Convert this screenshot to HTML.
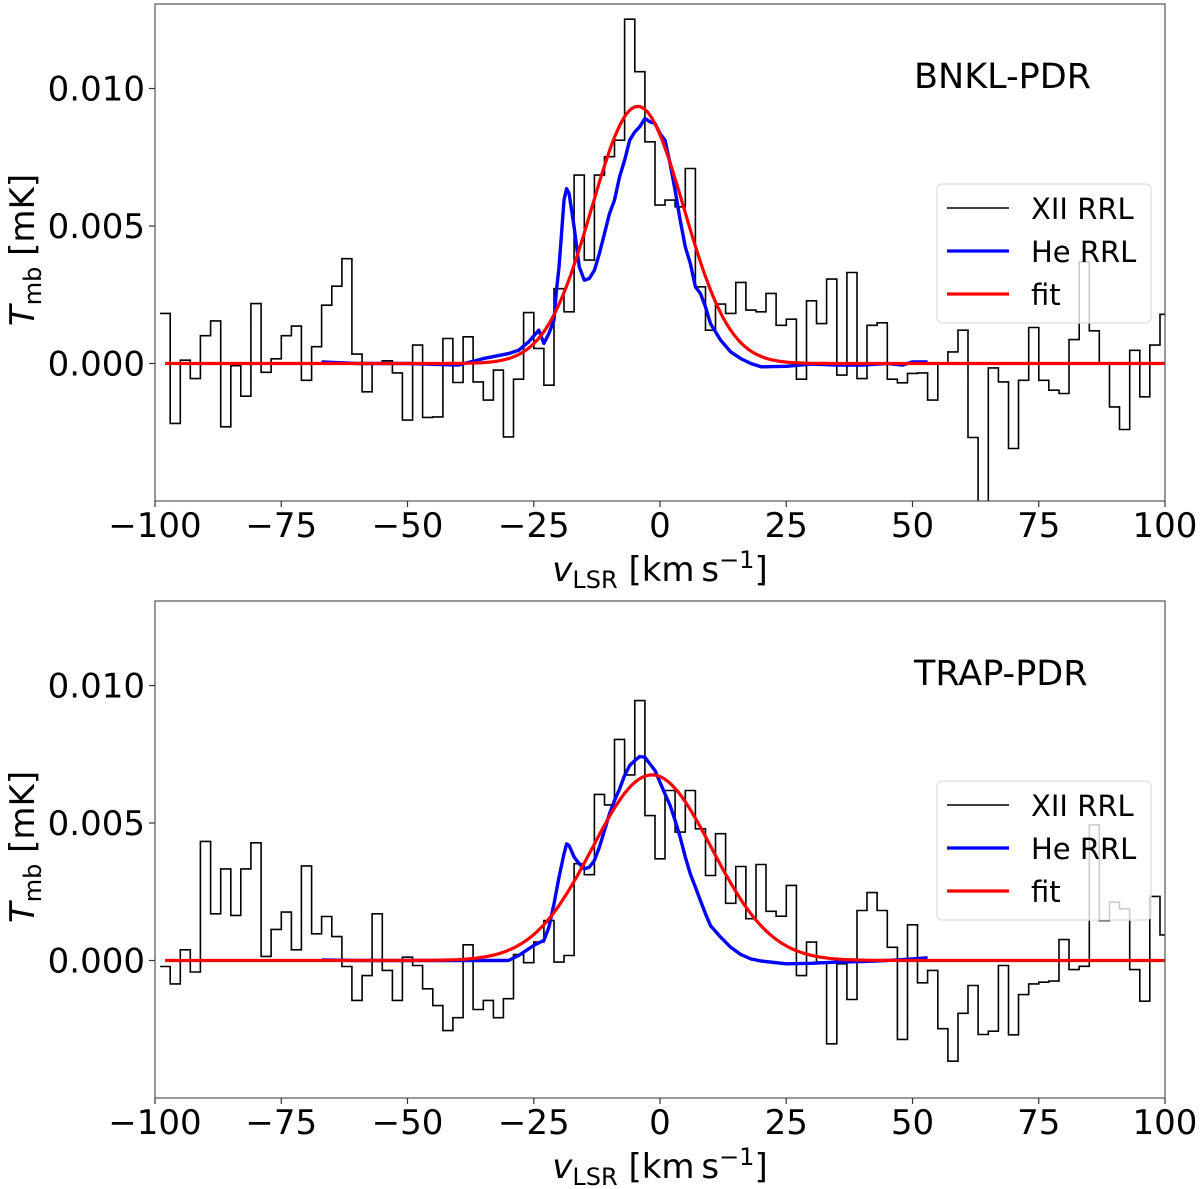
<!DOCTYPE html>
<html><head><meta charset="utf-8"><style>
html,body{margin:0;padding:0;background:#fff;}
svg{display:block;font-family:"DejaVu Sans","Liberation Sans",sans-serif;}
</style></head><body>
<svg id="fig" width="1200" height="1189" viewBox="0 0 1200 1189"></svg>
<script>
// ---- data (values in units of 1e-3 K as read) ----
const histStart = -98, histStep = 2;
const topHist = [1.82,-2.18,0.12,-0.55,1.01,1.55,-2.30,-0.08,-1.19,2.18,-0.32,0.17,1.01,1.36,-0.61,0.61,2.12,2.81,3.81,0.34,-1.03,0,0.10,-0.34,-2.06,0.67,-1.96,-1.94,0.91,-0.69,0.97,-0.67,-1.33,-0.24,-2.67,-0.57,1.85,0.55,-0.79,2.72,1.88,6.85,3.76,6.85,7.52,8.12,12.52,10.61,8.06,5.76,
5.94,5.70,7.09,2.79,1.21,2.16,1.82,2.95,1.94,1.88,2.55,1.39,1.61,-0.57,2.28,1.45,3.07,-0.42,3.31,-0.55,1.39,1.48,-0.57,-0.70,-0.36,-0.34,-1.33,0,0.42,1.21,-2.69,-5.70,-0.16,-0.67,-3.09,-0.61,1.31,-0.61,-0.97,-1.09,0.87,3.70,1.19,0,-1.58,-2.40,0.48,-1.21,0.67,1.79];
const botHist = [-0.22,-0.85,0.39,-0.42,4.33,1.70,3.33,1.64,3.33,4.28,0.15,1.13,1.76,0.39,3.44,0.97,1.60,0.87,-0.22,-1.45,-0.55,1.70,-0.36,-1.45,0.12,-0.18,-1.03,-1.64,-2.55,-2.08,0.57,-1.78,-1.45,-2.08,-1.39,0.22,-0.08,0.67,1.45,-0.06,0.18,3.52,3.12,6.04,5.66,8.04,6.75,9.45,5.27,3.70,
6.18,4.67,6.18,4.79,3.09,4.61,2.08,3.42,1.52,3.49,1.79,1.61,2.73,-0.55,0.67,-0.06,-3.03,-0.12,-1.42,1.82,2.47,1.82,0.48,-2.87,1.30,-0.81,-0.36,-2.48,-3.66,-1.92,-0.91,-2.69,-2.57,-0.18,-2.70,-1.24,-0.85,-0.79,-0.75,0.76,-0.33,-0.21,4.93,1.45,2.12,1.88,-0.33,-1.48,2.33,0.93];
const topHeV = [-67,-60,-50,-40,-35,-30,-28,-26,-24,-23,-22,-21,-20.5,-20,-19.5,-19,-18.5,-18,-17,-16,-15,-14,-13,-12,-11,-10,-9,-8,-7,-6,-5,-4,-3,-2,-1,0,1,2,3,4,5,6,7,8,9,10,12,14,16,18,20,25,30,35,40,45,48,50,53];
const topHeT = [0.06,0,0,-0.06,0.18,0.36,0.48,0.79,1.21,0.73,1.09,1.58,2.67,3.5,4.7,5.94,6.36,6.18,4.97,3.52,3.03,3.09,3.39,4.0,4.73,5.45,5.94,6.79,7.39,8.12,8.42,8.61,8.91,8.79,8.73,8.36,8.12,7.27,6.30,5.21,4.24,3.64,2.79,2.55,2.06,1.45,0.85,0.42,0.18,0,-0.12,-0.1,-0.02,-0.06,-0.06,0,-0.06,0.06,0.06];
const botHeV = [-67,-60,-50,-40,-30,-28,-25,-23,-22,-21,-20,-19,-18.5,-18,-17,-16,-15,-14,-13,-12,-11,-10,-9,-8,-7,-6,-5,-4,-3,-2,-1,0,1,2,3,4,5,6,7,8,9,10,12,14,16,18,20,25,30,35,40,45,50,53];
const botHeT = [0.02,0,0,0,0,0.18,0.55,0.73,1.21,2.06,3.03,3.88,4.24,4.18,3.76,3.52,3.33,3.39,3.64,4.12,4.73,5.33,5.82,6.24,6.73,7.09,7.27,7.42,7.39,7.15,6.91,6.48,6.06,5.64,5.09,4.48,3.76,3.15,2.67,2.18,1.70,1.27,0.85,0.48,0.22,0.06,-0.02,-0.12,-0.1,-0.06,-0.04,0,0.06,0.1];
const fitTop = {amp: 9.35, center: -4.4, sigma: 9.1};
const fitBot = {amp: 6.75, center: -1.6, sigma: 11.8};
const xTicks = [-100,-75,-50,-25,0,25,50,75,100];
const xTickLabels = ["\u2212100","\u221275","\u221250","\u221225","0","25","50","75","100"];
const yTicks = [0, 5, 10];
const yTickLabels = ["0.000","0.005","0.010"];

const NS = "http://www.w3.org/2000/svg";
const svg = document.getElementById('fig');
function mk(tag, attrs, parent){const e=document.createElementNS(NS,tag);for(const k in attrs)e.setAttribute(k,attrs[k]);(parent||svg).appendChild(e);return e;}

function panel(top, hist, heV, heT, fit, title, key){
  const L=155, R=1165, T=top, B=top+497;
  const zeroY = top+359.5;
  const sx = v => L + (v+100)*(R-L)/200;
  const sy = t => zeroY - t*27.5;
  const g = mk('g',{});
  
  
  const cp = mk('clipPath',{id:'clip-'+key}, g);
  mk('rect',{x:L,y:T,width:R-L,height:B-T},cp);
  const plot = mk('g',{'clip-path':'url(#clip-'+key+')'}, g);
  let d='';
  for(let i=0;i<hist.length;i++){
    const v=histStart+i*histStep;
    const x0=sx(Math.max(-100,v-histStep/2)), x1=sx(Math.min(100,v+histStep/2));
    const y=sy(hist[i]);
    d += (i===0?'M':'L')+x0.toFixed(1)+','+y.toFixed(1)+'L'+x1.toFixed(1)+','+y.toFixed(1);
  }
  const h = mk('path',{d:d,fill:'none',stroke:'#000','stroke-width':1.6}, plot);
  
  
  let d2='';
  for(let i=0;i<heV.length;i++) d2+=(i?'L':'M')+sx(heV[i]).toFixed(1)+','+sy(heT[i]).toFixed(1);
  const he = mk('path',{d:d2,fill:'none',stroke:'#0000ff','stroke-width':3.4,'stroke-linejoin':'round'}, plot);
  
  
  let d3='';
  for(let v=-98;v<=100;v+=0.5){const t=fit.amp*Math.exp(-Math.pow(v-fit.center,2)/(2*fit.sigma*fit.sigma));d3+=(v===-98?'M':'L')+sx(v).toFixed(1)+','+sy(t).toFixed(1);}
  const fl = mk('path',{d:d3,fill:'none',stroke:'#ff0000','stroke-width':3.2}, plot);
  
  
  const fr = mk('rect',{x:L,y:T,width:R-L,height:B-T,fill:'none',stroke:'#555','stroke-width':1.2}, g);
  
  
  for(let i=0;i<xTicks.length;i++){
    const x=sx(xTicks[i]);
    mk('line',{x1:x,y1:B,x2:x,y2:B+6,stroke:'#333','stroke-width':1.2},g);
    const tl = mk('text',{x:x,y:B+36,'font-size':34,'text-anchor':'middle',fill:'#000'},g);
    tl.textContent = xTickLabels[i];
    
    
  }
  for(let i=0;i<yTicks.length;i++){
    const y=sy(yTicks[i]);
    mk('line',{x1:L-6,y1:y,x2:L,y2:y,stroke:'#333','stroke-width':1.2},g);
    const tl = mk('text',{x:L-10,y:y+12,'font-size':34,'text-anchor':'end',fill:'#000'},g);
    tl.textContent = yTickLabels[i];
    
    
  }
  const xl = mk('text',{x:660,y:B+80,'font-size':34,'text-anchor':'middle',fill:'#000'},g);
  xl.innerHTML = '<tspan font-style="italic">v</tspan><tspan font-size="24" dy="7">LSR</tspan><tspan dy="-7"> [km\u2009s</tspan><tspan font-size="24" dy="-13">\u22121</tspan><tspan dy="13">]</tspan>';
  
  
  const yl = mk('text',{transform:'translate(34,'+(top+246)+') rotate(-90)','font-size':34,'text-anchor':'middle',fill:'#000'},g);
  yl.innerHTML = '<tspan font-style="italic">T</tspan><tspan font-size="24" dy="7">mb</tspan><tspan dy="-7"> [mK]</tspan>';
  
  
  const tt = mk('text',{x:914,y:top+84,'font-size':35,fill:'#000'},g);
  tt.textContent = title;
  
  
  const lg = mk('g',{},g);
  
  
  mk('rect',{x:937,y:top+180,width:214,height:139,rx:5,fill:'rgba(255,255,255,0.8)',stroke:'#ddd','stroke-width':1.2},lg);
  const items=[['XII RRL','#000',1.6],['He RRL','#0000ff',3.2],['fit','#ff0000',3.2]];
  for(let i=0;i<3;i++){
    const y=top+204+i*43;
    mk('line',{x1:947,y1:y,x2:1009,y2:y,stroke:items[i][1],'stroke-width':items[i][2]},lg);
    const t=mk('text',{x:1031,y:y+11,'font-size':29,fill:'#000'},lg);
    t.textContent=items[i][0];
    
    
  }
}
panel(4, topHist, topHeV, topHeT, fitTop, 'BNKL-PDR', 'top');
panel(601, botHist, botHeV, botHeT, fitBot, 'TRAP-PDR', 'bottom');
</script>
</body></html>
